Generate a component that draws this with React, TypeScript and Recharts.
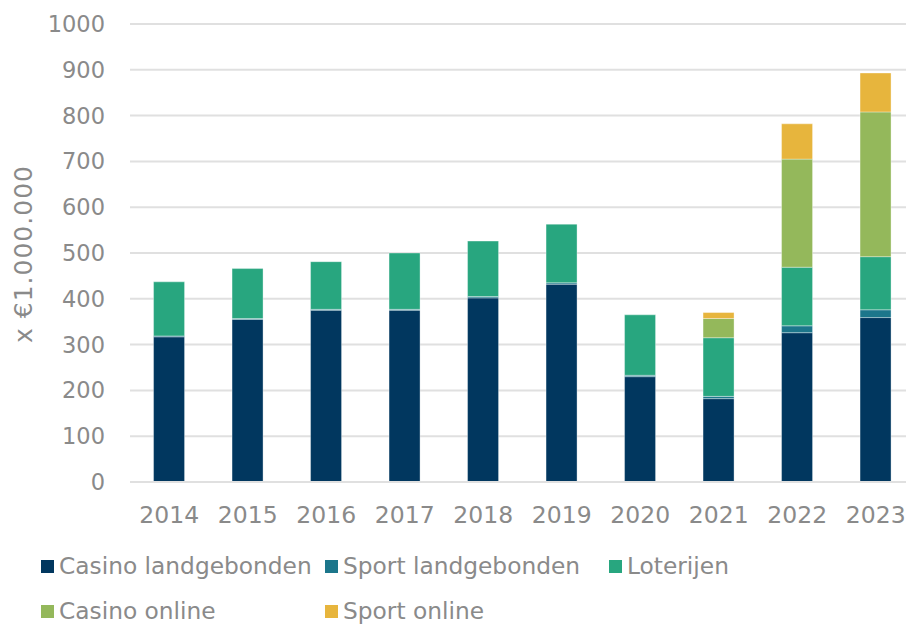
import React from "react";
import {
  BarChart,
  Bar,
  XAxis,
  YAxis,
  CartesianGrid,
} from "recharts";

const YEARS = ["2014", "2015", "2016", "2017", "2018", "2019", "2020", "2021", "2022", "2023"];
const CASINO_LAND = [317, 355, 375, 375, 402, 432, 230, 182, 326, 359];
const SPORT_LAND = [2, 2, 2, 2, 3, 3, 3, 5, 15, 17];
const LOTERIJEN = [118, 109, 104, 123, 121, 128, 132, 128, 128, 116];
const CASINO_ONLINE = [0, 0, 0, 0, 0, 0, 0, 42, 236, 316];
const SPORT_ONLINE = [0, 0, 0, 0, 0, 0, 0, 13, 77, 85];
const Y_TICKS = [0, 100, 200, 300, 400, 500, 600, 700, 800, 900, 1000];

const SERIES = [
  { key: "casinoLand", name: "Casino landgebonden", color: "#01375F", values: CASINO_LAND },
  { key: "sportLand", name: "Sport landgebonden", color: "#1C768B", values: SPORT_LAND },
  { key: "loterijen", name: "Loterijen", color: "#28A67F", values: LOTERIJEN },
  { key: "casinoOnline", name: "Casino online", color: "#94B85B", values: CASINO_ONLINE },
  { key: "sportOnline", name: "Sport online", color: "#E7B53D", values: SPORT_ONLINE },
];

const data = YEARS.map((year, i) => {
  const row: Record<string, string | number> = { year };
  SERIES.forEach((s) => {
    row[s.key] = s.values[i];
  });
  return row;
});

const FONT = "'DejaVu Sans', Verdana, sans-serif";
const TEXT = "#8a8a8a";

// legend grid: three columns, two rows
const LEGEND_POS = [
  { left: 41, top: 566 },
  { left: 325, top: 566 },
  { left: 609, top: 566 },
  { left: 41, top: 611 },
  { left: 325, top: 611 },
];

export default function App() {
  return (
    <div
      style={{
        position: "absolute",
        left: 0,
        top: 0,
        width: 906,
        height: 624,
        overflow: "hidden",
        background: "#fff",
        fontFamily: FONT,
      }}
    >
      <BarChart
        width={930}
        height={560}
        data={data}
        margin={{ top: 24, right: 15, left: 0, bottom: 0 }}
        barCategoryGap="30%"
      >
        <CartesianGrid vertical={false} stroke="#e0e0e0" strokeWidth={2} />
        <XAxis
          dataKey="year"
          height={78}
          axisLine={{ stroke: "#e0e0e0", strokeWidth: 2 }}
          tickLine={false}
          tickMargin={18}
          tick={{ fill: TEXT, fontSize: 23.5, fontFamily: FONT }}
        />
        <YAxis
          width={130}
          domain={[0, 1000]}
          ticks={Y_TICKS}
          interval={0}
          axisLine={false}
          tickLine={false}
          tickMargin={19}
          tick={{ fill: TEXT, fontSize: 22.5, fontFamily: FONT }}
          label={{
            content: () => (
              <text
                x={23}
                y={254}
                transform="rotate(-90 23 254)"
                textAnchor="middle"
                dominantBaseline="central"
                fill={TEXT}
                fontSize={25}
                letterSpacing={1}
                fontFamily={FONT}
              >
                x €1.000.000
              </text>
            ),
          }}
        />
        {SERIES.map((s) => (
          <Bar
            key={s.key}
            dataKey={s.key}
            name={s.name}
            stackId="a"
            fill={s.color}
            stroke="rgba(255,255,255,0.35)"
            strokeWidth={1}
            isAnimationActive={false}
          />
        ))}
      </BarChart>
      {SERIES.map((s, i) => (
        <div
          key={s.key}
          style={{
            position: "absolute",
            left: LEGEND_POS[i].left,
            top: LEGEND_POS[i].top - 14,
            height: 28,
            display: "flex",
            alignItems: "center",
            whiteSpace: "nowrap",
          }}
        >
          <span
            style={{
              display: "inline-block",
              width: 13,
              height: 13,
              background: s.color,
              marginRight: 5,
            }}
          />
          <span style={{ color: TEXT, fontSize: 23.3, lineHeight: "28px" }}>{s.name}</span>
        </div>
      ))}
    </div>
  );
}
